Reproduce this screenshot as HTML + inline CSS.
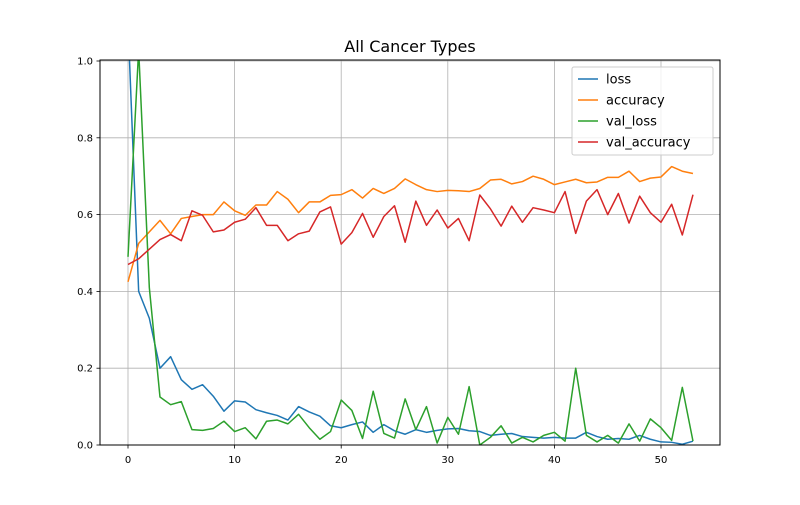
<!DOCTYPE html>
<html><head><meta charset="utf-8"><style>
body{margin:0;background:#fff;font-family:"Liberation Sans","DejaVu Sans",sans-serif}
svg text{font-family:"DejaVu Sans","Liberation Sans",sans-serif}
</style></head><body>
<svg id="chart" width="800" height="500" viewBox="0 0 800 500">
<rect width="800" height="500" fill="#fff"/>
<defs><clipPath id="clip"><rect x="100" y="60" width="620" height="385"/></clipPath></defs>
<text x="410" y="52" text-anchor="middle" font-size="16">All Cancer Types</text>
<g id="grid"></g><g id="plot" clip-path="url(#clip)"></g>
<rect x="100" y="60" width="620" height="385" fill="none" stroke="#000" stroke-width="1"/>
<g id="ticks"></g><g id="legend"></g>
</svg>
<script>
const xTicks=[0,10,20,30,40,50];
const yTicks=[0,0.2,0.4,0.6,0.8,1.0];
const yTickLabels=["0.0","0.2","0.4","0.6","0.8","1.0"];
const seriesNames=["loss","accuracy","val_loss","val_accuracy"];
const seriesColors=["#1f77b4","#ff7f0e","#2ca02c","#d62728"];
const loss=[1.1,0.40,0.33,0.20,0.23,0.17,0.145,0.157,0.127,0.088,0.115,0.112,0.092,0.084,0.077,0.065,0.10,0.086,0.075,0.05,0.045,0.053,0.06,0.033,0.053,0.037,0.028,0.04,0.033,0.038,0.042,0.043,0.037,0.035,0.025,0.028,0.03,0.022,0.02,0.018,0.02,0.018,0.018,0.033,0.022,0.015,0.017,0.015,0.025,0.015,0.008,0.007,0.002,0.01];
const accuracy=[0.425,0.525,0.555,0.585,0.55,0.59,0.595,0.60,0.60,0.633,0.61,0.598,0.625,0.625,0.66,0.64,0.605,0.633,0.633,0.65,0.652,0.665,0.643,0.668,0.655,0.668,0.693,0.678,0.665,0.66,0.663,0.662,0.66,0.668,0.69,0.692,0.68,0.686,0.70,0.692,0.678,0.685,0.692,0.683,0.685,0.697,0.697,0.713,0.686,0.695,0.698,0.725,0.713,0.707];
const valLoss=[0.49,1.03,0.41,0.125,0.105,0.113,0.04,0.038,0.043,0.062,0.035,0.045,0.016,0.062,0.065,0.055,0.08,0.045,0.015,0.035,0.117,0.09,0.017,0.14,0.03,0.018,0.12,0.04,0.1,0.005,0.072,0.028,0.152,0.0,0.02,0.05,0.005,0.02,0.008,0.025,0.033,0.01,0.2,0.025,0.008,0.025,0.005,0.055,0.01,0.068,0.045,0.012,0.15,0.01];
const valAccuracy=[0.47,0.485,0.51,0.535,0.548,0.532,0.61,0.598,0.555,0.56,0.58,0.588,0.618,0.572,0.572,0.532,0.55,0.557,0.607,0.62,0.523,0.553,0.603,0.541,0.595,0.623,0.528,0.635,0.572,0.612,0.565,0.59,0.532,0.651,0.615,0.57,0.622,0.58,0.618,0.612,0.605,0.66,0.551,0.635,0.665,0.60,0.655,0.578,0.648,0.605,0.58,0.627,0.547,0.652];
const allSeries=[loss,accuracy,valLoss,valAccuracy];
const NS="http://www.w3.org/2000/svg";
const X=v=>128+v*10.66, Y=v=>445-v*384;
function mk(tag,attrs,parent){const e=document.createElementNS(NS,tag);for(const k in attrs)e.setAttribute(k,attrs[k]);parent.appendChild(e);return e;}
const grid=document.getElementById('grid'),ticks=document.getElementById('ticks'),plot=document.getElementById('plot'),legend=document.getElementById('legend');
xTicks.forEach(t=>{
 const g=mk('line',{x1:X(t),x2:X(t),y1:60,y2:445,stroke:'#b0b0b0','stroke-width':0.8},grid);
 
 
 mk('line',{x1:X(t),x2:X(t),y1:445,y2:448.5,stroke:'#000','stroke-width':0.8},ticks);
 const tx=mk('text',{x:X(t),y:463,'text-anchor':'middle','font-size':10},ticks);tx.textContent=t;
 
 
});
yTicks.forEach((t,i)=>{
 const g=mk('line',{x1:100,x2:720,y1:Y(t),y2:Y(t),stroke:'#b0b0b0','stroke-width':0.8},grid);
 
 
 mk('line',{x1:96.5,x2:100,y1:Y(t),y2:Y(t),stroke:'#000','stroke-width':0.8},ticks);
 const tx=mk('text',{x:93,y:Y(t)+3.5,'text-anchor':'end','font-size':10},ticks);tx.textContent=yTickLabels[i];
 
 
});
allSeries.forEach((s,i)=>{
 const p=mk('polyline',{points:s.map((v,j)=>X(j)+','+Y(v)).join(' '),fill:'none',stroke:seriesColors[i],'stroke-width':1.5,'stroke-linejoin':'round'},plot);
 
 
});
const lb=mk('rect',{x:572,y:67,width:141,height:88,fill:'#fff','fill-opacity':0.8,stroke:'#ccc',rx:2},legend);


seriesNames.forEach((n,i)=>{
 const y=79+i*21;
 mk('line',{x1:578,x2:598,y1:y,y2:y,stroke:seriesColors[i],'stroke-width':1.5},legend);
 const t=mk('text',{x:606,y:y+4.5,'font-size':13},legend);t.textContent=n;
 
 
});
</script>
</body></html>
